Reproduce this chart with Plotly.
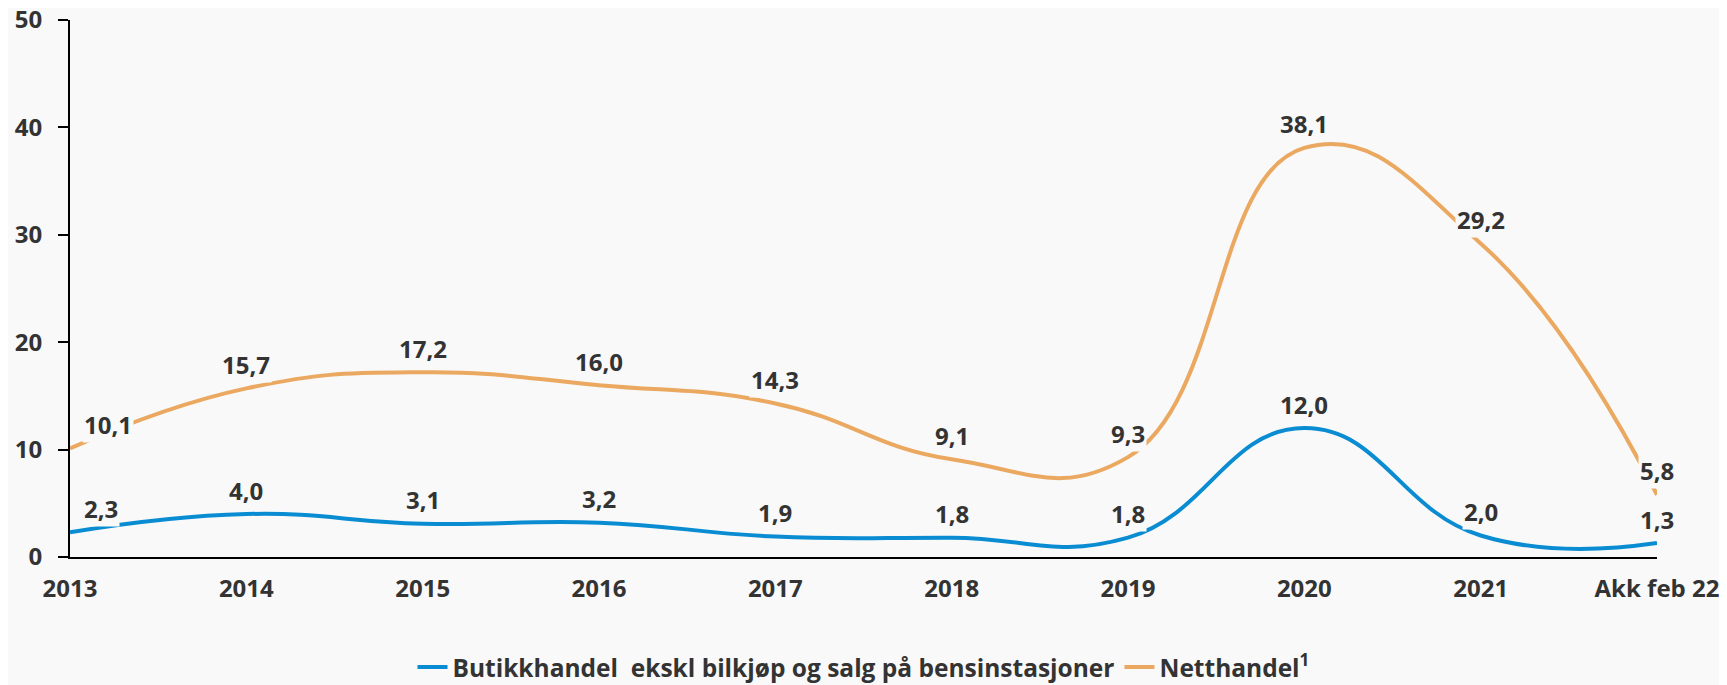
import plotly.graph_objects as go

categories = ["2013", "2014", "2015", "2016", "2017", "2018", "2019", "2020", "2021", "Akk feb 22"]
butikk = [2.3, 4.0, 3.1, 3.2, 1.9, 1.8, 1.8, 12.0, 2.0, 1.3]
nett = [10.1, 15.7, 17.2, 16.0, 14.3, 9.1, 9.3, 38.1, 29.2, 5.8]
y_ticks = [0, 10, 20, 30, 40, 50]

BLUE = "#0A8CD2"
ORANGE = "#EBA860"
BG = "#F9F9F9"
TXT = "#333333"
FONT = "Open Sans"

fig = go.Figure()
fig.add_trace(go.Scatter(
    x=categories, y=butikk, mode="lines",
    name="Butikkhandel  ekskl bilkjøp og salg på bensinstasjoner",
    line=dict(color=BLUE, width=4, shape="spline", smoothing=1.3),
))
fig.add_trace(go.Scatter(
    x=categories, y=nett, mode="lines",
    name="Netthandel<sup>1</sup>",
    line=dict(color=ORANGE, width=4, shape="spline", smoothing=1.3),
))

def fmt(v):
    return f"{v:.1f}".replace(".", ",")

for series in (butikk, nett):
    for i, v in enumerate(series):
        first = i == 0
        fig.add_annotation(
            x=i, y=v, text=f"<b>{fmt(v)}</b>", showarrow=False,
            yshift=24, xshift=(12 if first else 0),
            xanchor=("left" if first else "center"),
            bgcolor=BG, borderpad=1,
            font=dict(family=FONT, size=24, color=TXT),
        )

fig.update_layout(
    width=1719, height=677,
    paper_bgcolor=BG, plot_bgcolor=BG,
    margin=dict(l=62, r=70, t=12, b=128, autoexpand=False),
    font=dict(family=FONT, color=TXT),
    showlegend=True,
    legend=dict(
        orientation="h", x=0.5, xanchor="center", y=-0.205, yanchor="middle",
        font=dict(family=FONT, size=24.5, color=TXT, weight="bold"),
        itemwidth=30, bgcolor="rgba(0,0,0,0)",
    ),
    xaxis=dict(
        type="category", range=[0, len(categories) - 1],
        showline=True, linecolor="black", linewidth=2,
        showgrid=False, zeroline=False, ticks="",
        tickfont=dict(family=FONT, size=24, color=TXT, weight="bold"),
        ticklabelstandoff=9, ticklabeloverflow="allow",
    ),
    yaxis=dict(
        range=[0, 50], tickvals=y_ticks,
        showline=True, linecolor="black", linewidth=2,
        ticks="outside", ticklen=10, tickwidth=2, tickcolor="black",
        showgrid=False, zeroline=False,
        tickfont=dict(family=FONT, size=24, color=TXT, weight="bold"),
        ticklabelstandoff=11, ticklabeloverflow="allow",
    ),
)

fig.write_html("out.html")
